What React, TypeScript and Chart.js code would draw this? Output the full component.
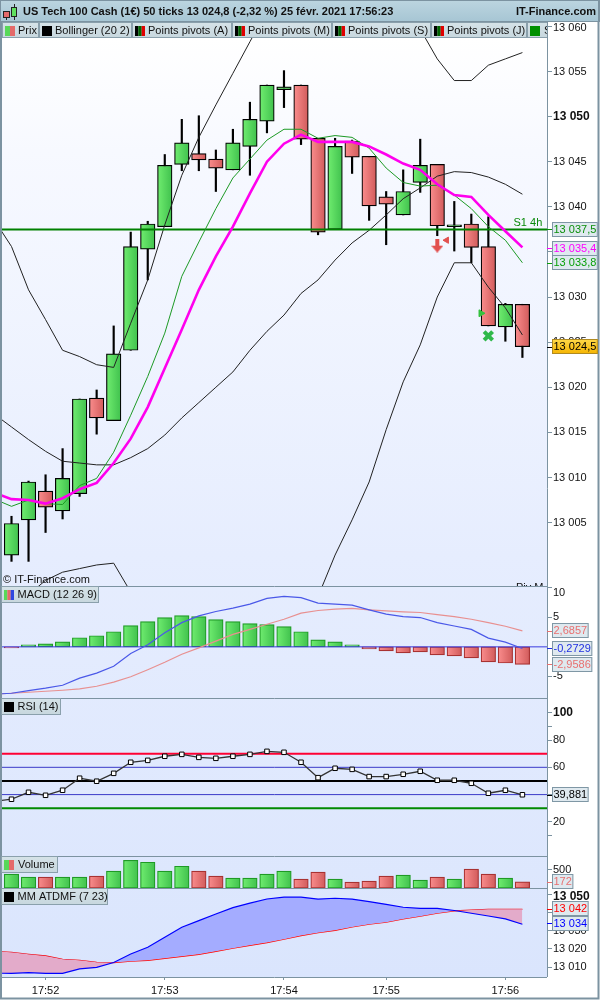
import React, { useEffect, useRef } from "react";
import { Chart, registerables } from "chart.js";
Chart.register(...registerables);

// ---------- data ----------
const candleOpen = [13001.4,13005.3,13008.5,13006.3,13008.2,13018.8,13016.3,13024.1,13035.3,13037.8,13044.7,13045.9,13045.3,13044.1,13046.7,13049.5,13053.0,13053.5,13047.6,13037.5,13047.3,13045.6,13041.1,13039.1,13042.7,13044.7,13037.8,13038.1,13035.6,13026.7,13029.2];
const candleClose = [13004.9,13009.5,13006.7,13009.9,13018.7,13016.6,13023.7,13035.6,13038.1,13044.6,13047.1,13045.2,13044.3,13047.1,13049.7,13053.5,13053.3,13047.5,13037.2,13046.7,13045.5,13040.1,13040.3,13041.7,13044.6,13037.9,13038.0,13035.5,13026.8,13029.2,13024.5];
const candleHigh = [13005.7,13009.6,13010.3,13013.2,13018.7,13019.7,13026.8,13037.2,13038.4,13045.8,13049.7,13050.1,13046.3,13048.6,13051.6,13053.5,13055.1,13053.5,13047.6,13047.6,13047.4,13045.6,13041.7,13044.1,13047.5,13044.7,13040.6,13039.2,13038.9,13029.3,13029.2];
const candleLow = [13000.7,13000.7,13003.9,13005.4,13007.9,13014.8,13016.3,13024.1,13031.9,13037.8,13044.0,13044.0,13041.7,13044.1,13043.5,13048.2,13051.0,13046.9,13036.9,13037.5,13043.7,13038.5,13035.8,13039.1,13041.6,13036.8,13035.1,13033.8,13026.8,13025.1,13023.3];
// line series: first value sits one step left of the first candle
const bollUpper = [13038.5,13035.6,13030.8,13027.5,13024.1,13023.4,13022.5,13022.2,13027.1,13031.9,13038.0,13043.5,13047.7,13051.3,13054.8,13058.3,13061.8,13064.5,13066.5,13067.5,13068.0,13067.5,13066.0,13064.5,13062.0,13059.7,13056.4,13054.0,13054.0,13055.7,13056.4,13057.1];
const bollMiddle = [13017.0,13015.6,13014.2,13012.9,13011.8,13011.6,13011.4,13011.4,13012.2,13013.2,13014.7,13016.6,13018.3,13020.0,13021.7,13024.1,13026.2,13028.0,13030.4,13031.9,13034.1,13036.0,13037.4,13039.1,13040.9,13042.1,13043.4,13043.9,13043.8,13043.3,13042.5,13041.4];
const bollLower = [12996.0,12996.4,12997.0,12998.6,12999.5,12999.9,13000.3,13000.5,12997.3,12994.2,12991.0,12989.0,12988.0,12987.0,12987.0,12988.0,12989.5,12991.0,12993.1,12996.8,13001.4,13005.3,13009.5,13015.3,13020.6,13024.7,13030.0,13033.8,13033.8,13031.1,13028.8,13025.8];
const maGreen = [13007.6,13006.8,13007.5,13007.1,13007.0,13009.1,13009.9,13012.8,13016.9,13021.2,13026.0,13032.3,13036.1,13039.8,13043.2,13045.3,13047.4,13048.6,13048.6,13047.6,13047.9,13047.7,13046.5,13044.3,13042.7,13042.3,13042.4,13041.3,13039.8,13037.8,13036.3,13033.8];
const maMagenta = [13008.3,13007.6,13007.5,13007.1,13007.7,13008.7,13009.4,13011.6,13014.3,13017.8,13022.1,13026.4,13030.8,13034.5,13037.8,13041.5,13045.0,13047.0,13048.0,13047.2,13047.2,13047.2,13046.7,13045.8,13044.8,13044.1,13042.5,13041.3,13041.1,13039.1,13037.3,13035.5];
const pivotS1 = 13037.5;
const macdHist = [-0.17,0.34,0.51,0.85,1.54,1.88,2.56,3.59,4.27,4.96,5.3,5.13,4.62,4.27,3.93,3.76,3.42,2.56,1.2,0.85,0.34,-0.34,-0.68,-1.03,-0.85,-1.37,-1.54,-1.88,-2.56,-2.74,-2.96];
const macdLine = [-8.0,-7.86,-7.41,-7.0,-6.5,-5.3,-4.44,-3.3,-1.14,0.34,2.39,4.1,5.24,5.98,6.55,7.24,8.2,8.55,8.32,7.41,7.24,7.07,6.27,5.53,5.13,4.96,4.1,3.53,2.96,1.48,0.8,-0.27];
const macdSignal = [-8.0,-7.86,-7.69,-7.52,-7.35,-7.12,-6.67,-5.98,-5.07,-3.87,-2.62,-1.25,-0.17,0.97,2.11,2.96,3.82,4.67,5.7,6.15,6.38,6.5,6.27,6.1,5.93,5.81,5.47,5.13,4.67,4.1,3.48,2.69];
const rsiValues = [35.0,36.6,41.7,39.5,43.2,52.0,49.8,55.6,63.7,65.1,68.1,69.5,67.3,66.6,68.1,69.5,71.7,71.0,63.7,52.4,59.3,58.5,53.2,53.2,54.9,57.1,50.5,50.5,48.3,41.0,43.2,39.88];
const rsiLevels = [70, 60, 50, 40, 30];
const volumes = [382,300,300,300,300,328,464,764,710,464,600,464,328,273,273,382,464,246,437,246,164,191,328,355,218,300,246,519,382,273,172];
const atdBlue = [13006.8,13006.7,13007.1,13006.7,13006.7,13009.1,13010.0,13012.6,13017.3,13020.9,13026.4,13031.9,13035.5,13039.1,13042.6,13045.0,13047.3,13048.3,13048.3,13047.2,13047.7,13047.2,13045.9,13044.4,13042.8,13042.2,13042.2,13041.0,13039.5,13038.0,13036.4,13033.5];
const atdRed = [13018.7,13018.2,13017.1,13016.2,13014.4,13013.8,13012.7,13012.6,13013.3,13013.8,13014.9,13016.0,13017.1,13018.7,13020.4,13022.0,13023.5,13025.3,13027.3,13028.9,13030.2,13032.0,13033.5,13034.6,13036.4,13037.9,13039.5,13040.8,13041.3,13041.7,13041.7,13041.7];

const timeTicks = [2, 9, 16, 22, 29];
const timeLabels = ["17:52", "17:53", "17:54", "17:55", "17:56"];
const mainTicks = [13060,13055,13050,13045,13040,13035,13030,13025,13020,13015,13010,13005];
const macdTicks = [10, 5, -5];
const rsiTicks = [100, 90, 80, 60, 40, 20, 10];
const rsiLabelled = [100, 80, 60, 40, 20];
const volTicks = [500];
const atdTicks = [13050, 13040, 13030, 13020, 13010];

const arrowSignal = [{ x: 25, y: 13035.7 }];
const leftSignal = [{ x: 25.55, y: 13036.3 }];
const rightSignal = [{ x: 27.57, y: 13028.2 }];
const crossSignal = [{ x: 28, y: 13025.7 }];

const titleText = "US Tech 100 Cash (1€) 50 ticks 13 024,8 (-2,32 %) 25 févr. 2021 17:56:23";
const brandText = "IT-Finance.com";
const copyrightText = "© IT-Finance.com";

const valueBoxes = [
  { scale: "yMain", value: 13037.5, text: "13 037,5", color: "#0b8f0b" },
  { scale: "yMain", value: 13035.4, text: "13 035,4", color: "#ff00ff" },
  { scale: "yMain", value: 13033.8, text: "13 033,8", color: "#08a008" },
  { scale: "yMain", value: 13024.5, text: "13 024,5", color: "#000000", gold: true },
  { scale: "yMacd", value: 2.6857, text: "2,6857", color: "#e87070" },
  { scale: "yMacd", value: -0.2729, text: "-0,2729", color: "#2030e0" },
  { scale: "yMacd", value: -2.9586, text: "-2,9586", color: "#e87070" },
  { scale: "yRsi", value: 39.881, text: "39,881", color: "#000000" },
  { scale: "yVol", value: 172, text: "172", color: "#e87070" },
  { scale: "yAtd", value: 13042, text: "13 042", color: "#ff0000" },
  { scale: "yAtd", value: 13034, text: "13 034", color: "#0000ff" },
];

// ---------- styling helpers ----------
const FONT = '"Liberation Sans", Arial, sans-serif';
const AXIS = "#7c93a1";
const fmtThousands = (v: number) => {
  const s = String(v);
  return s.length > 3 ? s.slice(0, s.length - 3) + " " + s.slice(-3) : s;
};
const pts = (arr: number[]) => arr.map((y, i) => ({ x: i - 1, y }));
const flat = (v: number) => [{ x: -2, y: v }, { x: 33, y: v }];

function barGradient(c: any, light: string, dark: string) {
  const { chart, dataIndex } = c;
  const sx = chart.scales?.x;
  if (!sx || dataIndex === undefined) return light;
  const px = sx.getPixelForValue(dataIndex);
  if (!Number.isFinite(px)) return light;
  const g = chart.ctx.createLinearGradient(px - 7, 0, px + 7, 0);
  g.addColorStop(0, light);
  g.addColorStop(1, dark);
  return g;
}
const GREEN = ["#6fec6f", "#41c24e"];
const RED = ["#f98c8c", "#d25c5c"];
const fillUp = (c: any, up: boolean) =>
  up ? barGradient(c, GREEN[0], GREEN[1]) : barGradient(c, RED[0], RED[1]);

function axisCommon(ids: number[], labelFor: (v: number) => any, fontFor?: (v: number) => any) {
  return {
    position: "right",
    stack: "panes",
    bounds: "data",
    afterFit: (s: any) => { s.width = 51; s.paddingTop = 0; s.paddingBottom = 0; },
    afterBuildTicks: (s: any) => { s.ticks = ids.map((value) => ({ value })); },
    border: { display: false },
    grid: { drawOnChartArea: false, drawTicks: true, tickLength: 5, tickColor: AXIS, tickWidth: 1 },
    ticks: {
      autoSkip: false,
      padding: 1,
      color: "#111111",
      callback: (v: number) => labelFor(v),
      font: (c: any) => (fontFor && c.tick ? fontFor(c.tick.value) : null) || { family: FONT, size: 11 },
    },
  };
}

function drawTab(ctx: any, x1: number, x2: number, y1: number, y2: number, colors: string[], text: string, textX: number) {
  const g = ctx.createLinearGradient(0, y1, 0, y2);
  g.addColorStop(0, "#d6e3e8");
  g.addColorStop(1, "#c7d7de");
  ctx.fillStyle = g;
  ctx.fillRect(x1, y1, x2 - x1, y2 - y1);
  ctx.strokeStyle = "#8aa0ac";
  ctx.lineWidth = 1;
  ctx.strokeRect(x1 + 0.5, y1 + 0.5, x2 - x1 - 1, y2 - y1 - 1);
  const w = 10 / colors.length;
  colors.forEach((col, i) => {
    ctx.fillStyle = col;
    ctx.fillRect(x1 + 3 + i * w, y1 + 4, w, 10);
  });
  ctx.fillStyle = "#111";
  ctx.font = `11px ${FONT}`;
  ctx.textAlign = "left";
  ctx.textBaseline = "middle";
  ctx.fillText(text, textX, (y1 + y2) / 2 + 0.5);
}

const paneChrome = {
  id: "paneChrome",
  beforeDraw(chart: any) {
    const { ctx, chartArea: a } = chart;
    ctx.save();
    ctx.fillStyle = "#ffffff";
    ctx.fillRect(0, 0, 600, 1000);
    const g = ctx.createLinearGradient(0, 38, 0, a.bottom);
    g.addColorStop(0, "#ffffff");
    g.addColorStop(0.12, "#f7f9ff");
    g.addColorStop(0.55, "#e6edfe");
    g.addColorStop(1, "#dae5fd");
    ctx.fillStyle = g;
    ctx.fillRect(a.left, a.top, a.right - a.left, a.bottom - a.top);
    ctx.restore();
  },
  afterDraw(chart: any) {
    const { ctx, chartArea: a, scales } = chart;
    ctx.save();
    // pane separators, axis line, outer frame
    ctx.strokeStyle = AXIS;
    ctx.lineWidth = 1;
    ["yMain", "yMacd", "yRsi", "yVol", "yAtd"].forEach((id) => {
      const y = Math.round(scales[id].bottom) + 0.5;
      ctx.beginPath();
      ctx.moveTo(a.left, y);
      ctx.lineTo(a.right, y);
      ctx.stroke();
    });
    ctx.beginPath();
    ctx.moveTo(a.right + 0.5, 0);
    ctx.lineTo(a.right + 0.5, a.bottom);
    ctx.stroke();
    ctx.lineWidth = 2;
    ctx.strokeRect(1, 21, 597.5, 977.5);

    // chart annotations
    ctx.fillStyle = "#0a8a0a";
    ctx.font = `11px ${FONT}`;
    ctx.textAlign = "left";
    ctx.textBaseline = "middle";
    ctx.fillText("S1 4h", 513.5, 222.5);
    ctx.fillStyle = "#111";
    ctx.fillText(copyrightText, 3, 580);
    ctx.save();
    ctx.beginPath();
    ctx.rect(500, 570, 47, 16);
    ctx.clip();
    ctx.fillText("Piv M", 516, 588);
    ctx.restore();

    // title bar
    const t = ctx.createLinearGradient(0, 0, 0, 21);
    t.addColorStop(0, "#bcd5e0");
    t.addColorStop(1, "#a7c6d4");
    ctx.fillStyle = t;
    ctx.fillRect(0, 0, 600, 21);
    ctx.fillStyle = AXIS;
    ctx.fillRect(0, 0, 600, 1);
    ctx.fillRect(0, 0, 1, 22);
    ctx.fillRect(0, 21, 600, 1);
    ctx.fillRect(598, 0, 2, 22);
    ctx.fillStyle = "#222";
    ctx.fillRect(6, 12, 1, 8);
    ctx.fillStyle = "#e46a6a";
    ctx.fillRect(4, 12, 5, 6);
    ctx.strokeStyle = "#222";
    ctx.lineWidth = 1;
    ctx.strokeRect(3.5, 11.5, 6, 6);
    ctx.fillStyle = "#222";
    ctx.fillRect(14, 4, 1, 16);
    ctx.fillStyle = "#5fe05f";
    ctx.fillRect(11, 7, 6, 9);
    ctx.strokeRect(11.5, 7.5, 5, 9);
    ctx.fillStyle = "#111";
    ctx.font = `bold 11px ${FONT}`;
    ctx.textAlign = "left";
    ctx.textBaseline = "middle";
    ctx.fillText(titleText, 23, 12);
    ctx.textAlign = "right";
    ctx.fillText(brandText, 596, 12);

    // tabs (main row and pane labels)
    ctx.fillStyle = "#dfe9ee";
    ctx.fillRect(2, 22, 545, 16);
    drawTab(ctx, 2, 39, 22, 38, ["#58d858", "#e46a6a"], "Prix", 18);
    drawTab(ctx, 39, 132, 22, 38, ["#000000"], "Bollinger (20 2)", 55);
    drawTab(ctx, 132, 232, 22, 38, ["#000", "#006400", "#e00000"], "Points pivots (A)", 148);
    drawTab(ctx, 232, 332, 22, 38, ["#000", "#006400", "#e00000"], "Points pivots (M)", 248);
    drawTab(ctx, 332, 431, 22, 38, ["#000", "#006400", "#e00000"], "Points pivots (S)", 348);
    drawTab(ctx, 431, 527, 22, 38, ["#000", "#006400", "#e00000"], "Points pivots (J)", 447);
    ctx.save();
    ctx.beginPath();
    ctx.rect(527, 22, 20, 16);
    ctx.clip();
    drawTab(ctx, 527, 600, 22, 38, ["#009000"], "S1", 544);
    ctx.restore();
    ctx.strokeStyle = AXIS;
    ctx.beginPath();
    ctx.moveTo(547.5, 21);
    ctx.lineTo(547.5, 38);
    ctx.stroke();
    drawTab(ctx, 1, 99, 586, 603, ["#58d858", "#e46a6a", "#3048e0"], "MACD (12 26 9)", 17.5);
    drawTab(ctx, 1, 61, 698, 715, ["#000000"], "RSI (14)", 17.5);
    drawTab(ctx, 1, 58, 856, 873, ["#58d858", "#e46a6a"], "Volume", 18);
    drawTab(ctx, 1, 108, 888, 905, ["#000000"], "MM ATDMF (7 23)", 17.5);

    // value boxes
    ctx.font = `11px ${FONT}`;
    valueBoxes.forEach((b: any) => {
      const y = scales[b.scale].getPixelForValue(b.value);
      const w = ctx.measureText(b.text).width + 3;
      ctx.strokeStyle = b.color;
      ctx.lineWidth = 1;
      ctx.beginPath();
      ctx.moveTo(a.right, Math.round(y) + 0.5);
      ctx.lineTo(a.right + 5, Math.round(y) + 0.5);
      ctx.stroke();
      const top = Math.round(y - 7.5);
      if (b.gold) {
        const gg = ctx.createLinearGradient(0, top, 0, top + 15);
        gg.addColorStop(0, "#ffd94a");
        gg.addColorStop(1, "#f5b400");
        ctx.fillStyle = gg;
      } else {
        ctx.fillStyle = "#dfe9ef";
      }
      ctx.fillRect(552, top, w, 15);
      ctx.strokeStyle = b.gold ? "#b08a20" : "#7f97a5";
      ctx.strokeRect(552.5, top + 0.5, w - 1, 14);
      ctx.fillStyle = b.color;
      ctx.textAlign = "left";
      ctx.textBaseline = "middle";
      ctx.fillText(b.text, 553.5, top + 8);
    });
    ctx.restore();
  },
};

function arrowImage() {
  const c = document.createElement("canvas");
  c.width = 12;
  c.height = 14;
  const g = c.getContext("2d")!;
  g.fillStyle = "#e2504e";
  g.fillRect(4, 0, 4, 7);
  g.beginPath();
  g.moveTo(0, 7);
  g.lineTo(12, 7);
  g.lineTo(6, 14);
  g.closePath();
  g.fill();
  return c;
}

export default function App() {
  const ref = useRef<HTMLCanvasElement>(null);
  useEffect(() => {
    document.body.style.margin = "0";
    const xs = candleOpen.map((_, i) => i);
    const line = (data: number[], color: string, width: number, yAxisID: string, order: number, extra: any = {}) => ({
      type: "line",
      data: pts(data),
      borderColor: color,
      backgroundColor: color,
      borderWidth: width,
      yAxisID,
      order,
      pointRadius: 0,
      tension: 0,
      fill: false,
      ...extra,
    });
    const level = (v: number, color: string, width: number, yAxisID: string, order: number) =>
      ({ ...line([], color, width, yAxisID, order), data: flat(v) });
    const isUp = (i: number) => candleClose[i] >= candleOpen[i];
    const chart = new Chart(ref.current!, {
      type: "bar",
      data: {
        datasets: [
          {
            type: "bar",
            label: "wick",
            data: xs.map((x) => ({ x, y: [candleLow[x], candleHigh[x]] })),
            yAxisID: "yMain",
            barThickness: 1.5,
            grouped: false,
            backgroundColor: "#000000",
            borderWidth: 0,
            order: 20,
          },
          {
            type: "bar",
            label: "candle",
            data: xs.map((x) => ({ x, y: [candleOpen[x], candleClose[x]] })),
            yAxisID: "yMain",
            barThickness: 14.5,
            grouped: false,
            backgroundColor: (c: any) => fillUp(c, isUp(c.dataIndex)),
            borderColor: "#000000",
            borderWidth: 1.2,
            borderSkipped: false,
            order: 19,
          },
          line(bollUpper, "#222222", 1, "yMain", 15),
          line(bollMiddle, "#222222", 1, "yMain", 15),
          line(bollLower, "#222222", 1, "yMain", 15),
          level(pivotS1, "#008000", 2, "yMain", 14),
          line(maGreen, "#1d9a25", 1, "yMain", 13),
          line(maMagenta, "#ff00ee", 2.6, "yMain", 12),
          { ...line([], "#e2504e", 1, "yMain", 5), data: arrowSignal, showLine: false, pointStyle: arrowImage(), pointRadius: 7 },
          { ...line([], "#e2504e", 1, "yMain", 5), data: leftSignal, showLine: false, pointStyle: "triangle", rotation: -90, pointRadius: 3.6 },
          { ...line([], "#35c23e", 1, "yMain", 5), data: rightSignal, showLine: false, pointStyle: "triangle", rotation: 90, pointRadius: 4 },
          { ...line([], "#2fb84a", 1, "yMain", 5), data: crossSignal, showLine: false, pointStyle: "crossRot", pointRadius: 6, pointBorderWidth: 4, pointBorderColor: "#2fb84a" },
          {
            type: "bar",
            label: "macd hist",
            data: xs.map((x) => ({ x, y: macdHist[x] })),
            yAxisID: "yMacd",
            barThickness: 14.5,
            grouped: false,
            backgroundColor: (c: any) => fillUp(c, macdHist[c.dataIndex] >= 0),
            borderColor: (c: any) => (macdHist[c.dataIndex] >= 0 ? "#1f9a25" : "#a83232"),
            borderWidth: 1.2,
            borderSkipped: false,
            order: 9,
          },
          level(0, "#3a3ae0", 1, "yMacd", 8),
          line(macdLine, "#4a58e8", 1.2, "yMacd", 6),
          line(macdSignal, "#e89090", 1.2, "yMacd", 7),
          level(rsiLevels[0], "#ff0033", 2, "yRsi", 8),
          level(rsiLevels[1], "#3a3ac8", 1, "yRsi", 8),
          level(rsiLevels[2], "#000000", 2, "yRsi", 8),
          level(rsiLevels[3], "#3a3ac8", 1, "yRsi", 8),
          level(rsiLevels[4], "#008a00", 2, "yRsi", 8),
          line(rsiValues, "#333333", 1.3, "yRsi", 6, {
            pointRadius: 3.2,
            pointStyle: "rect",
            pointBackgroundColor: "#ffffff",
            pointBorderColor: "#000000",
            pointBorderWidth: 1,
          }),
          {
            type: "bar",
            label: "volume",
            data: xs.map((x) => ({ x, y: volumes[x] })),
            yAxisID: "yVol",
            barThickness: 14.5,
            grouped: false,
            backgroundColor: (c: any) => fillUp(c, isUp(c.dataIndex)),
            borderColor: (c: any) => (isUp(c.dataIndex) ? "#1f9a25" : "#a83232"),
            borderWidth: 1.2,
            borderSkipped: false,
            order: 9,
          },
          line(atdBlue, "#0000ff", 1.2, "yAtd", 6, {
            fill: { target: "+1", above: "#a4acff", below: "#e3abca" },
          }),
          line(atdRed, "#ff0000", 1.2, "yAtd", 6),
        ],
      } as any,
      options: {
        responsive: false,
        devicePixelRatio: 1,
        animation: false,
        events: [],
        layout: { autoPadding: false, padding: { left: 2, right: 2, top: 21, bottom: 2 } },
        plugins: { legend: { display: false }, tooltip: { enabled: false }, title: { display: false } },
        scales: {
          x: {
            type: "linear",
            offset: false,
            min: -0.558,
            max: 31.444,
            position: "bottom",
            afterFit: (s: any) => { s.height = 21; s.paddingLeft = 0; s.paddingRight = 0; },
            afterBuildTicks: (s: any) => { s.ticks = timeTicks.map((value) => ({ value })); },
            border: { display: false },
            grid: { offset: false, drawOnChartArea: false, drawTicks: true, tickLength: 3, tickColor: AXIS },
            ticks: {
              autoSkip: false,
              maxRotation: 0,
              padding: 4,
              color: "#111",
              font: { family: FONT, size: 11 },
              callback: (v: number) => timeLabels[timeTicks.indexOf(v)],
            },
          },
          yMain: {
            ...axisCommon(
              mainTicks,
              (v) => (v === 13060 ? ["", fmtThousands(v)] : fmtThousands(v)),
              (v) =>
                v === 13050
                  ? { family: FONT, size: 12, weight: "bold" }
                  : v === 13060
                  ? { family: FONT, size: 11, lineHeight: 0.35 }
                  : null
            ),
            min: 12997.97,
            max: 13060.6,
            stackWeight: 565,
          },
          yMacd: {
            ...axisCommon(
              macdTicks,
              (v) => (v === 10 ? ["", String(v)] : String(v)),
              (v) => (v === 10 ? { family: FONT, size: 11, lineHeight: 0.9 } : null)
            ),
            min: -8.66,
            max: 10.3,
            stackWeight: 112,
          },
          yRsi: {
            ...axisCommon(
              rsiTicks,
              (v) => (rsiLabelled.includes(v) ? String(v) : ""),
              (v) => (v === 100 ? { family: FONT, size: 12, weight: "bold" } : null)
            ),
            min: -5,
            max: 110.8,
            stackWeight: 158,
          },
          yVol: {
            ...axisCommon(volTicks, (v) => String(v)),
            min: 0,
            max: 882,
            stackWeight: 32,
          },
          yAtd: {
            ...axisCommon(
              atdTicks,
              (v) => (v === 13050 ? ["", fmtThousands(v)] : fmtThousands(v)),
              (v) => (v === 13050 ? { family: FONT, size: 12, weight: "bold", lineHeight: 0.45 } : null)
            ),
            min: 13004.7,
            max: 13053.3,
            stackWeight: 89,
          },
        },
      } as any,
      plugins: [paneChrome],
    } as any);
    return () => chart.destroy();
  }, []);
  return <canvas ref={ref} width={600} height={1000} style={{ display: "block", width: 600, height: 1000 }} />;
}
